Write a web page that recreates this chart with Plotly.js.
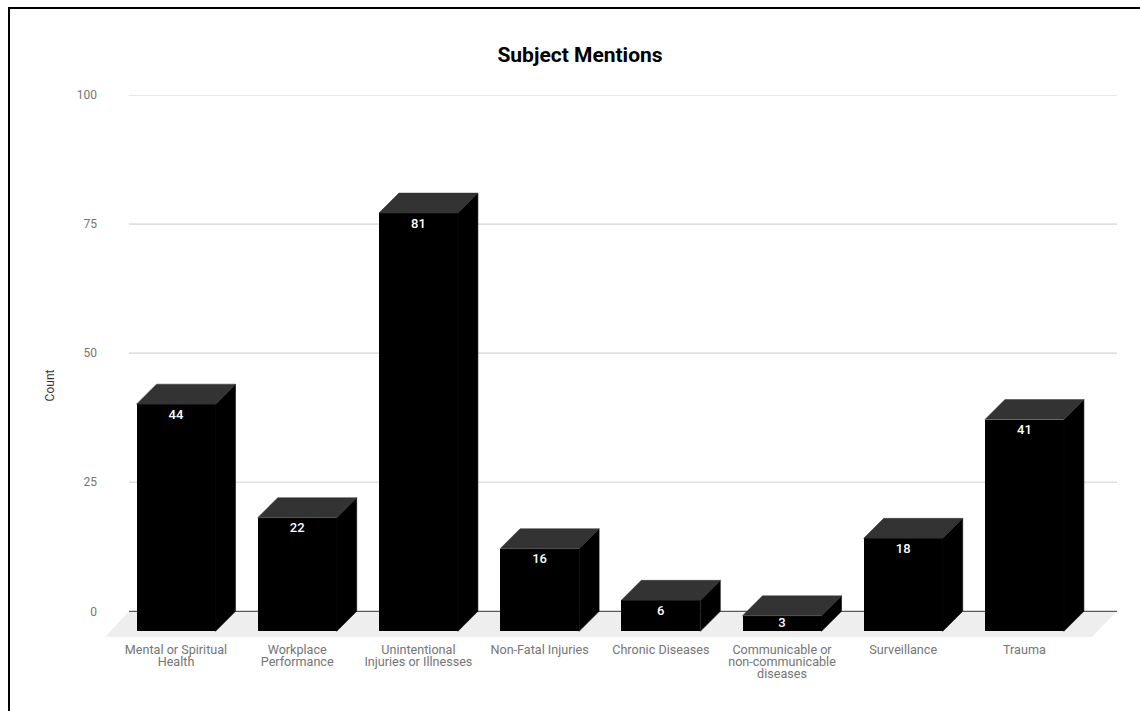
<!DOCTYPE html>
<html>
<head>
<meta charset="utf-8">
<script src="https://cdn.plot.ly/plotly-3.0.1.min.js"></script>
<style>
  html, body { margin: 0; padding: 0; background: #fff; overflow: hidden; }
  #frame { position: absolute; left: 8px; top: 7px; width: 1132px; height: 704px; box-sizing: border-box;
           border-top: 2px solid #000; border-left: 2px solid #000; }
  #chart { position: absolute; left: 0; top: 0; width: 1140px; height: 711px; }
</style>
</head>
<body>
<div id="frame"></div>
<div id="chart"></div>
<script>
// Subject mention counts
const categories = [
  "Mental or Spiritual<br>Health",
  "Workplace<br>Performance",
  "Unintentional<br>Injuries or Illnesses",
  "Non-Fatal Injuries",
  "Chronic Diseases",
  "Communicable or<br>non-communicable<br>diseases",
  "Surveillance",
  "Trauma"
];
const counts = [44, 22, 81, 16, 6, 3, 18, 41];
const yTicks = [0, 25, 50, 75, 100];

// Plot box in pixels and the scale of each axis
const plotLeft = 105, plotRight = 1117, plotTop = 94.5, plotBottom = 636.7;
const pxPerCount = 5.165, pxPerCategory = 121.2;
const firstCenterPx = 176;

// Oblique projection: each bar is a front face pushed forward from its value
const barWidth = 79 / pxPerCategory;
const depthX = 20 / pxPerCategory, depthY = 20 / pxPerCount;
const floorDepthX = 24 / pxPerCategory;
const yMin = -(plotBottom - plotTop - 100 * pxPerCount) / pxPerCount;
const xMin = (plotLeft - firstCenterPx) / pxPerCategory;
const xMax = (plotRight - firstCenterPx) / pxPerCategory;
const backLeft = xMin + floorDepthX;
const xIdx = categories.map((_, i) => i);

// Top and side faces of every bar, as closed polygons separated by gaps
const topX = [], topY = [], sideX = [], sideY = [];
counts.forEach((v, i) => {
  const l = i - barWidth / 2, r = i + barWidth / 2;
  topX.push(l, l + depthX, r + depthX, r, l, null);
  topY.push(v - depthY, v, v, v - depthY, v - depthY, null);
  sideX.push(r, r + depthX, r + depthX, r, r, null);
  sideY.push(v - depthY, v, 0, -depthY, v - depthY, null);
});

// White value labels sit just inside the top of the front face
const labelY = counts.map(v => v - depthY - Math.min(11.5 / pxPerCount, v / 2));

const traces = [
  { type: "bar", x: xIdx, y: counts, base: -depthY, width: barWidth,
    marker: { color: "#000", line: { width: 0 } }, hoverinfo: "skip" },
  { type: "scatter", mode: "lines", x: sideX, y: sideY, fill: "toself", fillcolor: "#000",
    line: { color: "#0a0a0a", width: 0.6 }, hoverinfo: "skip" },
  { type: "scatter", mode: "lines", x: topX, y: topY, fill: "toself", fillcolor: "#333",
    line: { color: "#333", width: 0.5 }, hoverinfo: "skip" },
  { type: "scatter", mode: "text", x: xIdx, y: labelY, text: counts.map(String),
    textposition: "middle center", cliponaxis: false,
    textfont: { family: "Roboto, sans-serif", size: 13, color: "#fff", weight: 500 }, hoverinfo: "skip" }
];

// Floor, gridlines and baseline live on the rear plane, behind the bars
const floorRight = xMax - floorDepthX - 1 / pxPerCategory;
const shapes = [
  { type: "path", layer: "below", xref: "x", yref: "y", line: { width: 0 }, fillcolor: "#eeeeee",
    path: `M ${backLeft} 0 L ${xMax} 0 L ${floorRight} ${yMin} L ${xMin} ${yMin} Z` }
];
yTicks.forEach(t => shapes.push({
  type: "line", layer: "below", xref: "x", yref: "y", x0: backLeft, x1: xMax, y0: t, y1: t,
  line: { color: t === 0 ? "#333333" : "#e0e0e0", width: t === 0 ? 1 : 1.6 }
}));

const plotHeight = plotBottom - plotTop, plotWidth = plotRight - plotLeft;

const layout = {
  width: 1140, height: 711, showlegend: false, bargap: 0,
  paper_bgcolor: "rgba(0,0,0,0)", plot_bgcolor: "rgba(0,0,0,0)",
  margin: { l: plotLeft, r: 1140 - plotRight, t: plotTop, b: 711 - plotBottom, pad: 0 },
  font: { family: "Roboto, sans-serif", size: 12, color: "#757575" },
  title: { text: "<b>Subject Mentions</b>", x: 580 / 1140, xanchor: "center", y: 1 - 55 / 711, yanchor: "middle",
           font: { family: "Roboto, sans-serif", size: 21, color: "#000" } },
  xaxis: { range: [xMin, xMax], tickmode: "array", tickvals: xIdx, ticktext: categories, tickangle: 0,
           showgrid: false, zeroline: false, showline: false, ticks: "", ticklabelstandoff: 3,
           tickfont: { family: "Roboto, sans-serif", size: 12.6, color: "#757575" } },
  yaxis: { range: [yMin, 100], tickmode: "array", tickvals: yTicks, showgrid: false, zeroline: false, showline: false,
           ticks: "", ticklabelstandoff: 7,
           tickfont: { family: "Roboto, sans-serif", size: 12, color: "#757575" } },
  annotations: [{
    text: "Count", textangle: -90, showarrow: false, xref: "paper", yref: "paper",
    x: (50 - plotLeft) / plotWidth, y: (plotBottom - 385) / plotHeight, xanchor: "center", yanchor: "middle",
    font: { family: "Roboto, sans-serif", size: 12, color: "#333" }
  }],
  shapes: shapes
};

Plotly.newPlot("chart", traces, layout, { displayModeBar: false, staticPlot: true }).then(() => {
  // Category labels are set tighter than the default line spacing
  document.querySelectorAll("#chart .xtick text").forEach(t => {
    t.querySelectorAll("tspan.line").forEach((line, i) => line.setAttribute("dy", (i * 0.98) + "em"));
  });
});
</script>
</body>
</html>
